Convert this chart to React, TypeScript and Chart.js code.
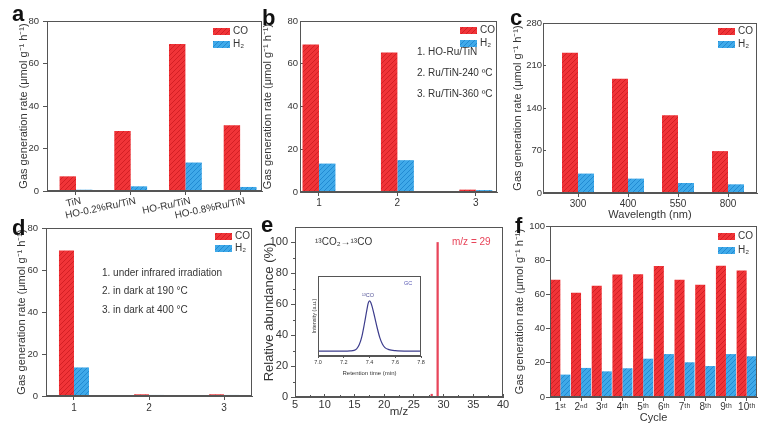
import React, { useEffect, useRef } from "react";
import { Chart, registerables } from "chart.js";

Chart.register(...registerables);

const W = 779;
const H = 427;
const FONT = "'Liberation Sans', Arial, Helvetica, sans-serif";
const TXT = "#353535";
const AX = "#555555";

// ---------------- data ----------------
const catsA = ["TiN", "HO-0.2%Ru/TiN", "HO-Ru/TiN", "HO-0.8%Ru/TiN"];
const coA = [6.9, 28.2, 69.2, 31];
const h2A = [0.6, 2.2, 13.4, 1.9];

const catsB = ["1", "2", "3"];
const coB = [69, 65.3, 1.1];
const h2B = [13.3, 14.9, 0.9];
const notesB = ["1. HO-Ru/TiN", "2. Ru/TiN-240 ºC", "3. Ru/TiN-360 ºC"];

const catsC = ["300", "400", "550", "800"];
const coC = [231, 188, 128, 69];
const h2C = [32, 23.7, 16.5, 14.3];

const catsD = ["1", "2", "3"];
const coD = [69.3, 0.8, 0.8];
const h2D = [13.6, 0.5, 0.5];
const notesD = ["1. under infrared irradiation", "2. in dark at 190 °C", "3. in dark at 400 °C"];

const mzE = [28, 29];
const abundE = [1.8, 100];
const xTicksE = [5, 10, 15, 20, 25, 30, 35, 40];
const xMinorE = [7.5, 12.5, 17.5, 22.5, 27.5, 32.5, 37.5];
const yTicksE = [0, 20, 40, 60, 80, 100];
const yMinorE = [10, 30, 50, 70, 90];

const gcTime = [7.0, 7.1, 7.2, 7.25, 7.28, 7.3, 7.32, 7.34, 7.36, 7.38, 7.39, 7.4, 7.41, 7.42, 7.44, 7.46, 7.48, 7.5, 7.52, 7.55, 7.6, 7.7, 7.8];
const gcSignal = [6, 6, 6, 6.3, 7, 9, 14, 24, 40, 58, 66, 69, 67, 62, 49, 35, 23, 15, 10.5, 8, 6.6, 6, 6];
const gcTicks = [7.0, 7.2, 7.4, 7.6, 7.8];

const catsF = ["1ˢᵗ", "2ⁿᵈ", "3ʳᵈ", "4ᵗʰ", "5ᵗʰ", "6ᵗʰ", "7ᵗʰ", "8ᵗʰ", "9ᵗʰ", "10ᵗʰ"];
const coF = [68.6, 61, 65, 71.7, 71.8, 76.6, 68.6, 65.7, 76.8, 74];
const h2F = [13.1, 17, 15, 16.8, 22.4, 25.1, 20.3, 18.1, 25.1, 23.8];

const GAS_TITLE = "Gas generation rate (μmol g⁻¹ h⁻¹)";

// ---------------- helpers ----------------
function hatch(base: string, line: string) {
  const c = document.createElement("canvas");
  c.width = 5;
  c.height = 5;
  const g = c.getContext("2d")!;
  g.fillStyle = base;
  g.fillRect(0, 0, 5, 5);
  g.strokeStyle = line;
  g.lineWidth = 0.9;
  g.beginPath();
  g.moveTo(0, 5);
  g.lineTo(5, 0);
  g.moveTo(-2.5, 2.5);
  g.lineTo(2.5, -2.5);
  g.moveTo(2.5, 7.5);
  g.lineTo(7.5, 2.5);
  g.stroke();
  return g.createPattern(c, "repeat")!;
}

const framePlugin = {
  id: "frame",
  afterDatasetsDraw(chart: any) {
    const { ctx, chartArea: a } = chart;
    ctx.save();
    ctx.strokeStyle = AX;
    ctx.lineWidth = 1;
    const l = Math.round(a.left) + 0.5;
    const t = Math.round(a.top) + 0.5;
    const r = Math.round(a.right) - 0.5;
    const b = Math.round(a.bottom) - 0.5;
    ctx.strokeRect(l, t, r - l, b - t);
    ctx.restore();
  },
};

// minor tick marks placed through the chart's own scales
function minorTicksPlugin(xVals: number[], yVals: number[]) {
  return {
    id: "minorTicks",
    afterDraw(chart: any) {
      const { ctx, chartArea: a, scales } = chart;
      ctx.save();
      ctx.strokeStyle = AX;
      ctx.lineWidth = 1;
      ctx.beginPath();
      xVals.forEach((v) => {
        const px = Math.round(scales.x.getPixelForValue(v)) + 0.5;
        ctx.moveTo(px, a.bottom);
        ctx.lineTo(px, a.bottom - 2);
      });
      yVals.forEach((v) => {
        const py = Math.round(scales.y.getPixelForValue(v)) + 0.5;
        ctx.moveTo(a.left, py);
        ctx.lineTo(a.left - 2, py);
      });
      ctx.stroke();
      ctx.restore();
    },
  };
}

type Note = { text: string; x: number; y: number; color?: string; size?: number; align?: string };
type Decor = {
  letter?: [string, number, number];
  legend?: { x: number; y: number; gap: number };
  notes?: Note[];
};

function decorPlugin(d: Decor) {
  return {
    id: "decor",
    afterDraw(chart: any) {
      const ctx = chart.ctx;
      ctx.save();
      if (d.letter) {
        ctx.fillStyle = "#111";
        ctx.font = `bold 22px ${FONT}`;
        ctx.textAlign = "left";
        ctx.textBaseline = "alphabetic";
        ctx.fillText(d.letter[0], d.letter[1], d.letter[2]);
      }
      if (d.legend) {
        chart.data.datasets.forEach((ds: any, i: number) => {
          const y = d.legend!.y + i * d.legend!.gap;
          ctx.fillStyle = ds.backgroundColor;
          ctx.fillRect(d.legend!.x, y, 17, 7);
          ctx.fillStyle = TXT;
          ctx.font = `10px ${FONT}`;
          ctx.textAlign = "left";
          ctx.textBaseline = "middle";
          ctx.fillText(ds.label, d.legend!.x + 20, y + 3.5);
        });
      }
      (d.notes || []).forEach((n) => {
        ctx.fillStyle = n.color || TXT;
        ctx.font = `${n.size || 10}px ${FONT}`;
        ctx.textAlign = n.align || "left";
        ctx.textBaseline = "middle";
        ctx.fillText(n.text, n.x, n.y);
      });
      ctx.restore();
    },
  };
}

const grid = (len = 4) => ({
  display: true,
  drawOnChartArea: false,
  drawTicks: true,
  tickLength: len,
  color: AX,
  lineWidth: 1,
  offset: false,
});
const border = { display: true, color: AX, width: 1 };

type Area = { l: number; t: number; r: number; b: number };
type TickSpec = { len: number; pad: number };

function barPanel(
  p: {
    area: Area;
    cats: string[];
    co: number[];
    h2: number[];
    xMin: number;
    xMax: number;
    cp: number;
    yMax: number;
    yStep: number;
    yTitleX: number;
    yTick: TickSpec;
    xTick: TickSpec;
    xTitle?: { text: string; y: number };
    rot?: number;
    labelOffset?: number;
    decor: Decor;
  },
  pats: any
) {
  const pos = p.cats.map((_, i) => i + 1);
  const rot = p.rot || 0;
  return {
    type: "bar",
    data: {
      datasets: [
        {
          label: "CO",
          data: pos.map((x, i) => ({ x, y: p.co[i] })),
          backgroundColor: pats.co,
          borderWidth: 0,
          categoryPercentage: p.cp,
          barPercentage: 1,
        },
        {
          label: "H₂",
          data: pos.map((x, i) => ({ x, y: p.h2[i] })),
          backgroundColor: pats.h2,
          borderWidth: 0,
          categoryPercentage: p.cp,
          barPercentage: 1,
        },
      ],
    },
    options: {
      responsive: false,
      animation: false,
      events: [],
      layout: { padding: { left: 0, top: p.area.t, right: W - p.area.r, bottom: 0 } },
      plugins: { legend: { display: false }, tooltip: { enabled: false } },
      scales: {
        x: {
          type: "linear",
          min: p.xMin,
          max: p.xMax,
          bounds: "data",
          offset: false,
          afterBuildTicks: (s: any) => {
            s.ticks = pos.map((v) => ({ value: v }));
          },
          ticks: {
            autoSkip: false,
            minRotation: rot,
            maxRotation: rot,
            padding: p.xTick.pad,
            labelOffset: p.labelOffset || 0,
            color: TXT,
            font: { size: 10 },
            callback: (_v: any, i: number) => p.cats[i],
          },
          grid: grid(p.xTick.len),
          border,
          title: p.xTitle
            ? {
                display: true,
                text: p.xTitle.text,
                color: TXT,
                font: { size: 11 },
                padding: { top: 0, bottom: H - p.xTitle.y - 6.6 },
              }
            : { display: false },
          afterFit: (s: any) => {
            s.height = H - p.area.b;
          },
        },
        y: {
          type: "linear",
          min: 0,
          max: p.yMax,
          bounds: "data",
          ticks: { stepSize: p.yStep, padding: p.yTick.pad, color: TXT, font: { size: 9.5 } },
          grid: grid(p.yTick.len),
          border,
          title: {
            display: true,
            text: GAS_TITLE,
            color: TXT,
            font: { size: 11 },
            padding: { top: p.yTitleX - 6.6, bottom: 0 },
          },
          afterFit: (s: any) => {
            s.width = p.area.l;
          },
        },
      },
    },
    plugins: [framePlugin, decorPlugin(p.decor)],
  };
}

function buildConfigs(pats: any) {
  const a = barPanel(
    {
      area: { l: 47, t: 21, r: 262, b: 191 },
      cats: catsA,
      co: coA,
      h2: h2A,
      xMin: 0.47,
      xMax: 4.4,
      cp: 0.6,
      yMax: 80,
      yStep: 20,
      yTitleX: 24,
      yTick: { len: 4, pad: 4 },
      xTick: { len: 4, pad: 0 },
      rot: 12,
      labelOffset: 5,
      decor: { letter: ["a", 12, 21], legend: { x: 213, y: 28, gap: 13 } },
    },
    pats
  );
  const b = barPanel(
    {
      area: { l: 300, t: 21, r: 497, b: 192 },
      cats: catsB,
      co: coB,
      h2: h2B,
      xMin: 0.758,
      xMax: 3.27,
      cp: 0.42,
      yMax: 80,
      yStep: 20,
      yTitleX: 268,
      yTick: { len: -3, pad: 5 },
      xTick: { len: 4, pad: 1.5 },
      decor: {
        letter: ["b", 262, 25],
        legend: { x: 460, y: 27, gap: 13 },
        notes: notesB.map((t, i) => ({ text: t, x: 417, y: 52 + i * 21 })),
      },
    },
    pats
  );
  const c = barPanel(
    {
      area: { l: 543, t: 23, r: 757, b: 193 },
      cats: catsC,
      co: coC,
      h2: h2C,
      xMin: 0.3,
      xMax: 4.58,
      cp: 0.64,
      yMax: 280,
      yStep: 70,
      yTitleX: 518,
      yTick: { len: -3, pad: 4 },
      xTick: { len: 4, pad: 1.5 },
      xTitle: { text: "Wavelength (nm)", y: 215 },
      decor: { letter: ["c", 510, 25], legend: { x: 718, y: 28, gap: 13 } },
    },
    pats
  );
  const d = barPanel(
    {
      area: { l: 46, t: 228, r: 252, b: 396 },
      cats: catsD,
      co: coD,
      h2: h2D,
      xMin: 0.627,
      xMax: 3.373,
      cp: 0.4,
      yMax: 80,
      yStep: 20,
      yTitleX: 22,
      yTick: { len: 4, pad: 4 },
      xTick: { len: 4, pad: 2 },
      decor: {
        letter: ["d", 12, 235],
        legend: { x: 215, y: 233, gap: 12 },
        notes: notesD.map((t, i) => ({ text: t, x: 102, y: 273 + i * 18.5 })),
      },
    },
    pats
  );
  const f = barPanel(
    {
      area: { l: 550, t: 226, r: 757, b: 397 },
      cats: catsF,
      co: coF,
      h2: h2F,
      xMin: 0.5,
      xMax: 10.5,
      cp: 0.97,
      yMax: 100,
      yStep: 20,
      yTitleX: 520,
      yTick: { len: 4, pad: 1 },
      xTick: { len: 4, pad: 0.5 },
      xTitle: { text: "Cycle", y: 418 },
      decor: { letter: ["f", 515, 233], legend: { x: 718, y: 233, gap: 14 } },
    },
    pats
  );

  const eArea = { l: 295, t: 227, r: 503, b: 397 };
  const e = {
    type: "bar",
    data: {
      datasets: [
        {
          label: "m/z",
          data: mzE.map((x, i) => ({ x, y: abundE[i] })),
          backgroundColor: "#e8455a",
          barThickness: 1.6,
          borderWidth: 0,
        },
      ],
    },
    options: {
      responsive: false,
      animation: false,
      events: [],
      layout: { padding: { left: 0, top: eArea.t, right: W - eArea.r, bottom: 0 } },
      plugins: { legend: { display: false }, tooltip: { enabled: false } },
      scales: {
        x: {
          type: "linear",
          min: 5,
          max: 40,
          bounds: "data",
          offset: false,
          afterBuildTicks: (s: any) => {
            s.ticks = xTicksE.map((v) => ({ value: v }));
          },
          ticks: { autoSkip: false, maxRotation: 0, padding: 4, color: TXT, font: { size: 11 } },
          grid: grid(-3),
          border,
          title: {
            display: true,
            text: "m/z",
            color: TXT,
            font: { size: 11.5 },
            padding: { top: 0, bottom: H - 412 - 6.9 },
          },
          afterFit: (s: any) => {
            s.height = H - eArea.b;
          },
        },
        y: {
          type: "linear",
          min: 0,
          max: 110,
          bounds: "data",
          afterBuildTicks: (s: any) => {
            s.ticks = yTicksE.map((v) => ({ value: v }));
          },
          ticks: { padding: 3, color: TXT, font: { size: 11 } },
          grid: grid(4),
          border,
          title: {
            display: true,
            text: "Relative abundance (%)",
            color: TXT,
            font: { size: 13 },
            padding: { top: 269 - 7.8, bottom: 0 },
          },
          afterFit: (s: any) => {
            s.width = eArea.l;
          },
        },
      },
    },
    plugins: [
      framePlugin,
      minorTicksPlugin(xMinorE, yMinorE),
      decorPlugin({
        letter: ["e", 261, 232],
        notes: [
          { text: "¹³CO₂→¹³CO", x: 315, y: 242 },
          { text: "m/z = 29", x: 452, y: 242, color: "#e8455a" },
        ],
      }),
    ],
  };

  const iArea = { l: 318, t: 276, r: 421, b: 356 };
  const inset = {
    type: "line",
    data: {
      datasets: [
        {
          label: "GC",
          data: gcTime.map((x, i) => ({ x, y: gcSignal[i] })),
          borderColor: "#3c3c8c",
          borderWidth: 1.2,
          pointRadius: 0,
          cubicInterpolationMode: "monotone",
          fill: false,
        },
      ],
    },
    options: {
      responsive: false,
      animation: false,
      events: [],
      layout: { padding: { left: 0, top: iArea.t, right: W - iArea.r, bottom: 0 } },
      plugins: { legend: { display: false }, tooltip: { enabled: false } },
      scales: {
        x: {
          type: "linear",
          min: 7.0,
          max: 7.8,
          bounds: "data",
          afterBuildTicks: (s: any) => {
            s.ticks = gcTicks.map((v) => ({ value: v }));
          },
          ticks: {
            autoSkip: false,
            maxRotation: 0,
            padding: 1,
            color: TXT,
            font: { size: 5.5 },
            callback: (v: any) => Number(v).toFixed(1),
          },
          grid: grid(2),
          border,
          title: {
            display: true,
            text: "Retention time (min)",
            color: TXT,
            font: { size: 6 },
            padding: { top: 0, bottom: H - 373 - 3.6 },
          },
          afterFit: (s: any) => {
            s.height = H - iArea.b;
          },
        },
        y: {
          type: "linear",
          min: 0,
          max: 100,
          bounds: "data",
          ticks: { display: false },
          grid: { display: false },
          border,
          title: {
            display: true,
            text: "Intensity (a.u.)",
            color: TXT,
            font: { size: 5.5 },
            padding: { top: 314 - 3.3, bottom: 0 },
          },
          afterFit: (s: any) => {
            s.width = iArea.l;
          },
        },
      },
    },
    plugins: [
      framePlugin,
      decorPlugin({
        notes: [
          { text: "GC", x: 404, y: 283, color: "#5a5ab5", size: 5.5 },
          { text: "¹³CO", x: 368, y: 295, color: "#555599", size: 5.5, align: "center" },
        ],
      }),
    ],
  };

  return [a, b, c, d, e, f, inset];
}

export default function App() {
  const refs = useRef<(HTMLCanvasElement | null)[]>([]);

  useEffect(() => {
    Chart.defaults.font.family = FONT;
    Chart.defaults.color = TXT;
    const pats = {
      co: hatch("#f03438", "#cf1d23"),
      h2: hatch("#3fa9e9", "#1e87cf"),
    };
    const configs = buildConfigs(pats);
    const charts = configs.map((cfg: any, i) => new Chart(refs.current[i]!, cfg));
    return () => {
      charts.forEach((c) => c.destroy());
    };
  }, []);

  return (
    <div
      style={{
        position: "absolute",
        left: 0,
        top: 0,
        width: W,
        height: H,
        background: "#ffffff",
        overflow: "hidden",
      }}
    >
      {Array.from({ length: 7 }).map((_, i) => (
        <canvas
          key={i}
          ref={(el) => {
            refs.current[i] = el;
          }}
          width={W}
          height={H}
          style={{ position: "absolute", left: 0, top: 0, width: W, height: H }}
        />
      ))}
    </div>
  );
}
